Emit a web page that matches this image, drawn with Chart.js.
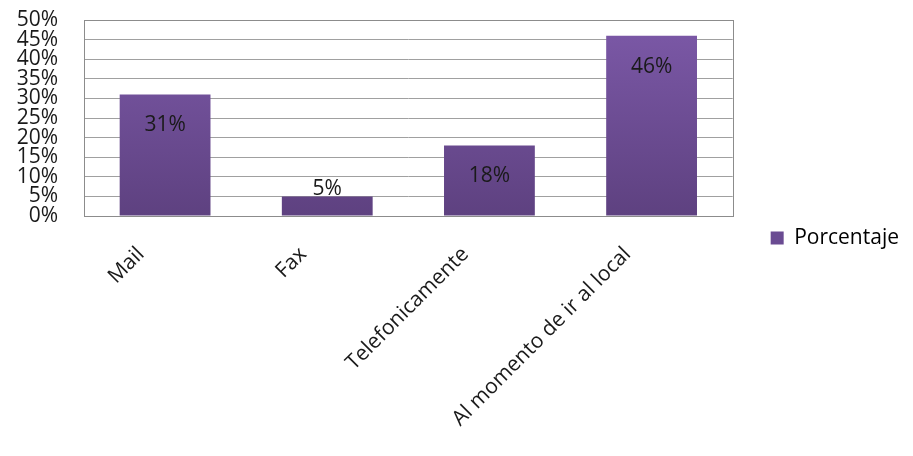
<!DOCTYPE html>
<html>
<head>
<meta charset="utf-8">
<script src="https://cdn.jsdelivr.net/npm/chart.js@4"></script>
<style>
  html, body { margin: 0; padding: 0; background: #fff; }
  #wrap { width: 913px; height: 456px; }
</style>
</head>
<body>
<div id="wrap"><canvas id="myChart" width="913" height="456"></canvas></div>
<script>
var categories = ["Mail", "Fax", "Telefonicamente", "Al momento de ir al local"];
var porcentaje = [31, 5, 18, 46];
var seriesName = "Porcentaje";

var FONT = "'Open Sans', 'DejaVu Sans', sans-serif";

// etiquetas de valor dentro de la barra, cerca del extremo
var valueLabels = {
  id: 'valueLabels',
  afterDatasetsDraw: function(chart) {
    var ctx = chart.ctx;
    var meta = chart.getDatasetMeta(0);
    ctx.save();
    ctx.font = "21px " + FONT;
    ctx.fillStyle = "#1a1a1a";
    ctx.textAlign = "center";
    ctx.textBaseline = "middle";
    meta.data.forEach(function(bar, i) {
      var y = Math.min(bar.y + 31, bar.base - 26);
      ctx.fillText(porcentaje[i] + "%", bar.x, y);
    });
    ctx.restore();
  }
};

// borde del area del grafico
var plotBorder = {
  id: 'plotBorder',
  beforeDatasetsDraw: function(chart) {
    var a = chart.chartArea, ctx = chart.ctx;
    ctx.save();
    ctx.strokeStyle = "#8c8c8c";
    ctx.lineWidth = 1;
    ctx.strokeRect(Math.round(a.left) + 0.5, Math.round(a.top) + 0.5,
      Math.round(a.right - a.left), Math.round(a.bottom - a.top));
    ctx.restore();
  }
};

function barGradient(context) {
  var chart = context.chart;
  var a = chart.chartArea;
  if (!a) return "#6c4c95";
  var g = chart.ctx.createLinearGradient(0, a.top, 0, a.bottom);
  g.addColorStop(0, "#7c59a8");
  g.addColorStop(1, "#5e4180");
  return g;
}

var ctx = document.getElementById("myChart").getContext('2d');
var myChart = new Chart(ctx, {
  type: 'bar',
  data: {
    labels: categories,
    datasets: [{
      label: seriesName,
      data: porcentaje,
      backgroundColor: barGradient,
      borderWidth: 0,
      barPercentage: 0.56,
      categoryPercentage: 1
    }]
  },
  options: {
    responsive: false,
    animation: false,
    layout: { padding: { top: 20, left: 0, right: 4, bottom: 0 } },
    plugins: {
      tooltip: { enabled: false },
      legend: {
        position: 'right',
        labels: {
          font: { family: FONT, size: 21 },
          color: "#1a1a1a",
          boxWidth: 13,
          boxHeight: 13,
          padding: 38,
          generateLabels: function(chart) {
            return [{ text: seriesName, fillStyle: "#6a4b92", strokeStyle: "#6a4b92", lineWidth: 0 }];
          }
        }
      }
    },
    scales: {
      x: {
        grid: { display: false, drawTicks: false },
        border: { color: "#8c8c8c" },
        afterFit: function(s) { s.height = 240; },
        ticks: {
          font: { family: FONT, size: 21 },
          color: "#1a1a1a",
          maxRotation: 45,
          minRotation: 45,
          labelOffset: -24,
          padding: 26
        }
      },
      y: {
        min: 0,
        max: 50,
        afterFit: function(s) { s.width = 84; s.paddingTop = 0; s.paddingBottom = 0; },
        grid: { color: "#a0a0a0", drawTicks: false },
        border: { display: false },
        ticks: {
          stepSize: 5,
          autoSkip: false,
          font: { family: FONT, size: 21, lineHeight: 1 },
          color: "#1a1a1a",
          padding: 26,
          callback: function(v) { return v + "%"; }
        }
      }
    }
  },
  plugins: [plotBorder, valueLabels]
});
</script>
</body>
</html>
